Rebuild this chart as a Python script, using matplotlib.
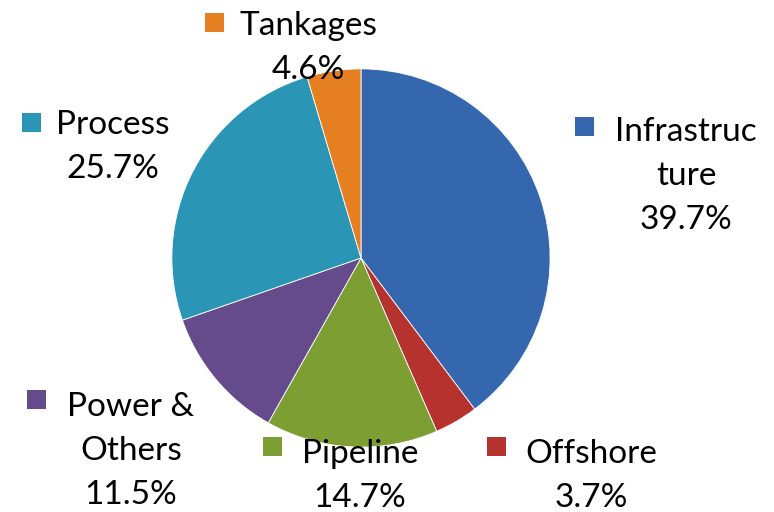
import matplotlib.pyplot as plt
from matplotlib.patches import Rectangle

categories = ['Infrastructure', 'Offshore', 'Pipeline', 'Power & Others', 'Process', 'Tankages']
shares = [39.7, 3.7, 14.7, 11.5, 25.7, 4.6]
label_names = ['Infrastruc\nture', 'Offshore', 'Pipeline', 'Power &\nOthers', 'Process', 'Tankages']
colors = ['#3567ae', '#b5322f', '#7d9e33', '#654a8c', '#2b95b5', '#e67e22']

# label anchor (text centre x, top y) in pixels, and square marker position
label_pos = [(686, 117), (591, 439), (360, 439), (131, 392), (113, 110), (308, 11)]
square_pos = [(575, 117), (487, 437), (263, 437), (27, 390), (22, 113), (205, 13)]

W, H = 774, 512
fig = plt.figure(figsize=(W / 100, H / 100), dpi=100)
plt.rcParams['font.family'] = ['Lato', 'DejaVu Sans']

cx, cy, r = 361, 258, 191
ax = fig.add_axes([(cx - r) / W, (H - cy - r) / H, 2 * r / W, 2 * r / H])
ax.pie(shares, colors=colors, startangle=90, counterclock=False, radius=1,
       wedgeprops=dict(linewidth=0.6, edgecolor='white'))
ax.set_xlim(-1.01, 1.01)
ax.set_ylim(-1.01, 1.01)
ax.axis('off')

for name, val, (lx, ly), (sx, sy), c in zip(label_names, shares, label_pos, square_pos, colors):
    fig.text(lx / W, 1 - ly / H, f'{name}\n{val}%', ha='center', va='top',
             fontsize=24, linespacing=1.58, multialignment='center')
    fig.patches.append(Rectangle((sx / W, 1 - (sy + 19) / H), 19 / W, 19 / H,
                                 transform=fig.transFigure, facecolor=c, edgecolor='none'))

fig.savefig('out.png', dpi=100)
